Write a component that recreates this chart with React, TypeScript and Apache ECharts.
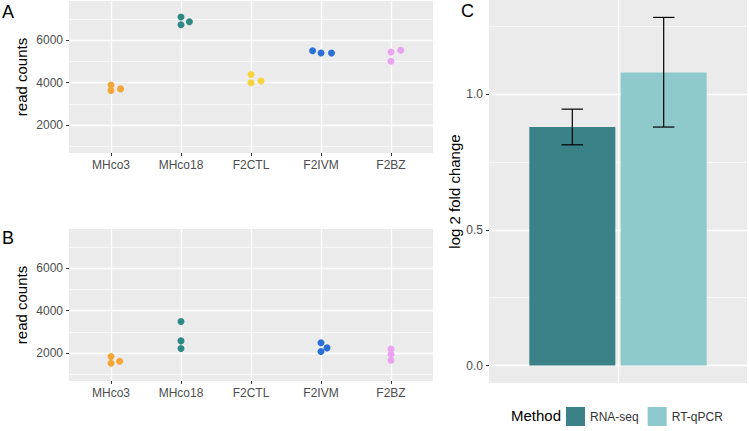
import React, { useEffect, useRef } from "react";
import * as echarts from "echarts";

// ---------- data ----------
const categories = ["MHco3", "MHco18", "F2CTL", "F2IVM", "F2BZ"];
const groupColors = ["#F4A637", "#2E8982", "#F8D23F", "#2A6FD8", "#E9A3EF"];

// Panel A: read counts per replicate, and horizontal jitter (category units)
const countsA = [
  [3890, 3630, 3710],
  [7100, 6730, 6870],
  [4390, 4000, 4080],
  [5510, 5400, 5400],
  [5450, 5010, 5530],
];
const jitterA = [
  [0, 0, 0.137],
  [0, 0, 0.12],
  [0, 0, 0.143],
  [-0.12, 0, 0.15],
  [0, 0, 0.139],
];

// Panel B
const countsB = [
  [1840, 1530, 1620],
  [3490, 2580, 2220],
  [],
  [2490, 2080, 2250],
  [2200, 1950, 1670],
];
const jitterB = [
  [0, 0, 0.123],
  [0, 0, 0],
  [],
  [0, 0, 0.086],
  [0, 0, 0],
];

const countTicks = [2000, 4000, 6000];
const countMinor = [1000, 3000, 5000, 7000];

// Panel C
const methods = ["RNA-seq", "RT-qPCR"];
const methodColors = ["#3A8287", "#8ECACC"];
const foldChange = [0.879, 1.08];
const errLow = [0.8135, 0.879];
const errHigh = [0.945, 1.283];
const foldTicks = [0, 0.5, 1];
const foldMinor = [0.25, 0.75, 1.25];

// ---------- helpers ----------
const FONT = "'Liberation Sans', Arial, sans-serif";
const TICK_COLOR = "#4D4D4D";
const DODGE = [-0.2125, 0.2125];
const BAR_W = 0.4;

function gridLineSeries(idx: number, majorX: number[], majorY: number[], minorY: number[]) {
  const minor = { color: "#FFFFFF", width: 0.6, type: "solid" as const };
  const major = { color: "#FFFFFF", width: 1.3, type: "solid" as const };
  return {
    type: "scatter",
    xAxisIndex: idx,
    yAxisIndex: idx,
    data: [],
    z: 1,
    silent: true,
    markLine: {
      z: 1,
      silent: true,
      animation: false,
      symbol: ["none", "none"],
      label: { show: false },
      emphasis: { disabled: true },
      data: [
        ...minorY.map((v) => ({ yAxis: v, lineStyle: minor })),
        ...majorY.map((v) => ({ yAxis: v, lineStyle: major })),
        ...majorX.map((v) => ({ xAxis: v, lineStyle: major })),
      ],
    },
  };
}

function pointSeries(idx: number, counts: number[][], jitter: number[][]) {
  return categories.map((c, ci) => ({
    type: "scatter",
    name: c,
    xAxisIndex: idx,
    yAxisIndex: idx,
    z: 10,
    symbolSize: 7,
    itemStyle: { color: groupColors[ci], opacity: 1 },
    data: counts[ci].map((v, k) => [ci + 1 + jitter[ci][k], v]),
  }));
}

function countXAxis(idx: number) {
  return {
    type: "value",
    gridIndex: idx,
    min: 0.4,
    max: 5.6,
    splitLine: { show: false },
    axisLine: { show: false },
    axisTick: {
      show: true,
      length: 3,
      customValues: [1, 2, 3, 4, 5],
      lineStyle: { color: "#333333", width: 1 },
    },
    axisLabel: {
      customValues: [1, 2, 3, 4, 5],
      formatter: (v: number) => categories[Math.round(v) - 1] ?? "",
      color: TICK_COLOR,
      fontSize: 12,
      fontFamily: FONT,
      margin: 6,
    },
  };
}

function countYAxis(idx: number) {
  return {
    type: "value",
    gridIndex: idx,
    min: 690,
    max: 7850,
    splitLine: { show: false },
    axisLine: { show: false },
    axisTick: {
      show: true,
      length: 3,
      customValues: countTicks,
      lineStyle: { color: "#333333", width: 1 },
    },
    axisLabel: {
      customValues: countTicks,
      formatter: (v: number) => String(Math.round(v)),
      color: TICK_COLOR,
      fontSize: 12,
      fontFamily: FONT,
      margin: 6,
    },
    name: "read counts",
    nameLocation: "middle",
    nameGap: 40,
    nameTextStyle: { color: "#000000", fontSize: 15, fontFamily: FONT },
  };
}

export default function App() {
  const ref = useRef<HTMLDivElement>(null);

  useEffect(() => {
    if (!ref.current) return;
    const chart = echarts.init(ref.current, undefined, { renderer: "svg" });

    const barSeries = methods.map((m, i) => ({
      type: "custom",
      name: m,
      xAxisIndex: 2,
      yAxisIndex: 2,
      z: 10,
      itemStyle: { color: methodColors[i] },
      data: [[1, foldChange[i]]],
      renderItem: (_p: any, api: any) => {
        const x = api.value(0) + DODGE[i];
        const y = api.value(1);
        const p0 = api.coord([x - BAR_W / 2, 0]);
        const p1 = api.coord([x + BAR_W / 2, y]);
        return {
          type: "rect",
          shape: { x: p0[0], y: p1[1], width: p1[0] - p0[0], height: p0[1] - p1[1] },
          style: { fill: methodColors[i] },
        };
      },
    }));

    const errorSeries = {
      type: "custom",
      name: "error",
      xAxisIndex: 2,
      yAxisIndex: 2,
      z: 12,
      silent: true,
      data: methods.map((_m, i) => [i, errLow[i], errHigh[i]]),
      renderItem: (_p: any, api: any) => {
        const i = api.value(0);
        const x = 1 + DODGE[i];
        const lo = api.coord([x, api.value(1)]);
        const hi = api.coord([x, api.value(2)]);
        const l = api.coord([x - 0.05, api.value(1)]);
        const r = api.coord([x + 0.05, api.value(1)]);
        const style = { stroke: "#000000", lineWidth: 1.2 };
        return {
          type: "group",
          children: [
            { type: "line", shape: { x1: lo[0], y1: lo[1], x2: hi[0], y2: hi[1] }, style },
            { type: "line", shape: { x1: l[0], y1: lo[1], x2: r[0], y2: lo[1] }, style },
            { type: "line", shape: { x1: l[0], y1: hi[1], x2: r[0], y2: hi[1] }, style },
          ],
        };
      },
    };

    const option: any = {
      animation: false,
      textStyle: { fontFamily: FONT },
      grid: [
        { left: 69, top: 1, width: 364, height: 152, show: true, backgroundColor: "#EBEBEB", borderWidth: 0 },
        { left: 69, top: 229, width: 364, height: 152, show: true, backgroundColor: "#EBEBEB", borderWidth: 0 },
        { left: 489, top: 0, width: 258, height: 383, show: true, backgroundColor: "#EBEBEB", borderWidth: 0 },
      ],
      xAxis: [
        countXAxis(0),
        countXAxis(1),
        {
          type: "value",
          gridIndex: 2,
          min: 0.4,
          max: 1.6,
          splitLine: { show: false },
          axisLine: { show: false },
          axisTick: { show: true, length: 3, customValues: [1], lineStyle: { color: "#333333" } },
          axisLabel: { show: false },
        },
      ],
      yAxis: [
        countYAxis(0),
        countYAxis(1),
        {
          type: "value",
          gridIndex: 2,
          min: -0.0642,
          max: 1.3472,
          splitLine: { show: false },
          axisLine: { show: false },
          axisTick: {
            show: true,
            length: 3,
            customValues: foldTicks,
            lineStyle: { color: "#333333", width: 1 },
          },
          axisLabel: {
            customValues: foldTicks,
            formatter: (v: number) => v.toFixed(1),
            color: TICK_COLOR,
            fontSize: 12,
            fontFamily: FONT,
            margin: 6,
          },
          name: "log 2 fold change",
          nameLocation: "middle",
          nameGap: 25,
          nameTextStyle: { color: "#000000", fontSize: 15, fontFamily: FONT },
        },
      ],
      legend: {
        data: methods,
        left: 566,
        top: 407,
        padding: 0,
        icon: "rect",
        itemWidth: 19,
        itemHeight: 19,
        itemGap: 9,
        selectedMode: false,
        textStyle: { fontSize: 12, color: "#333333", fontFamily: FONT },
      },
      graphic: [
        { type: "text", left: 2, top: 3, style: { text: "A", fontSize: 18, fill: "#000", fontFamily: FONT } },
        { type: "text", left: 2, top: 229, style: { text: "B", fontSize: 18, fill: "#000", fontFamily: FONT } },
        { type: "text", left: 461, top: 2, style: { text: "C", fontSize: 18, fill: "#000", fontFamily: FONT } },
        {
          type: "text",
          left: 511,
          top: 408,
          style: { text: "Method", fontSize: 15, fill: "#000", fontFamily: FONT },
        },
      ],
      series: [
        gridLineSeries(0, [1, 2, 3, 4, 5], countTicks, countMinor),
        gridLineSeries(1, [1, 2, 3, 4, 5], countTicks, countMinor),
        gridLineSeries(2, [1], foldTicks, foldMinor),
        ...pointSeries(0, countsA, jitterA),
        ...pointSeries(1, countsB, jitterB),
        ...barSeries,
        errorSeries,
      ],
    };

    chart.setOption(option);
    return () => chart.dispose();
  }, []);

  return (
    <div
      ref={ref}
      style={{ position: "fixed", left: 0, top: 0, width: 750, height: 431, background: "#FFFFFF" }}
    />
  );
}
